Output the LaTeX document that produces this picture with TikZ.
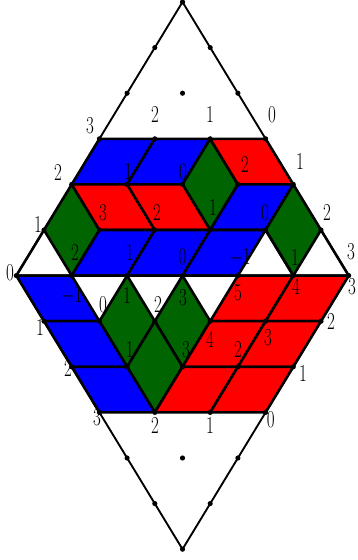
\documentclass[tikz,border=0pt]{standalone}
\usepackage{tikz}
\usepackage{xcolor}
\definecolor{dkgreen}{RGB}{0,100,0}
\tikzset{
  lz/.style={draw=black, line width=2.2pt, line join=round},
  bluetile/.style={lz, fill=blue},
  redtile/.style={lz, fill=red},
  greentile/.style={lz, fill=dkgreen},
  hgt/.style={font=\huge, xscale=0.7, transform shape, inner sep=0pt},
}

\begin{document}
\begin{tikzpicture}[x=0.831cm, y=-1.368cm]
    \useasboundingbox (-6.589,-0.044) rectangle (6.3,12.237);
    \draw[line width=1.6pt] (0,0) -- (6,6) -- (0,12) -- (-6,6) -- cycle;
    % upper half
    \filldraw[bluetile] (-3,3) -- (-1,3) -- (-2,4) -- (-4,4) -- cycle;
    \filldraw[bluetile] (-1,3) -- (1,3) -- (0,4) -- (-2,4) -- cycle;
    \filldraw[greentile] (1,3) -- (2,4) -- (1,5) -- (0,4) -- cycle;
    \filldraw[redtile] (1,3) -- (3,3) -- (4,4) -- (2,4) -- cycle;
    \filldraw[greentile] (-4,4) -- (-3,5) -- (-4,6) -- (-5,5) -- cycle;
    \filldraw[redtile] (-4,4) -- (-2,4) -- (-1,5) -- (-3,5) -- cycle;
    \filldraw[redtile] (-2,4) -- (0,4) -- (1,5) -- (-1,5) -- cycle;
    \filldraw[bluetile] (2,4) -- (4,4) -- (3,5) -- (1,5) -- cycle;
    \filldraw[greentile] (4,4) -- (5,5) -- (4,6) -- (3,5) -- cycle;
    \filldraw[bluetile] (-3,5) -- (-1,5) -- (-2,6) -- (-4,6) -- cycle;
    \filldraw[bluetile] (-1,5) -- (1,5) -- (0,6) -- (-2,6) -- cycle;
    \filldraw[bluetile] (1,5) -- (3,5) -- (2,6) -- (0,6) -- cycle;
    \draw[lz] (-5,5) -- (-6,6) -- (6,6) -- (5,5);
    \draw[lz] (3,5) -- (4,6);
    % lower half
    \filldraw[bluetile] (-6,6) -- (-4,6) -- (-3,7) -- (-5,7) -- cycle;
    \filldraw[greentile] (-2,6) -- (-1,7) -- (-2,8) -- (-3,7) -- cycle;
    \filldraw[greentile] (0,6) -- (1,7) -- (0,8) -- (-1,7) -- cycle;
    \filldraw[redtile] (2,6) -- (4,6) -- (3,7) -- (1,7) -- cycle;
    \filldraw[redtile] (4,6) -- (6,6) -- (5,7) -- (3,7) -- cycle;
    \filldraw[bluetile] (-5,7) -- (-3,7) -- (-2,8) -- (-4,8) -- cycle;
    \filldraw[greentile] (-1,7) -- (0,8) -- (-1,9) -- (-2,8) -- cycle;
    \filldraw[redtile] (1,7) -- (3,7) -- (2,8) -- (0,8) -- cycle;
    \filldraw[redtile] (3,7) -- (5,7) -- (4,8) -- (2,8) -- cycle;
    \filldraw[bluetile] (-4,8) -- (-2,8) -- (-1,9) -- (-3,9) -- cycle;
    \filldraw[redtile] (0,8) -- (2,8) -- (1,9) -- (-1,9) -- cycle;
    \filldraw[redtile] (2,8) -- (4,8) -- (3,9) -- (1,9) -- cycle;
    % lattice points
    \foreach \r in {0,...,12} {
        \pgfmathtruncatemacro{\m}{\r<=6 ? \r : 12-\r}
        \foreach \k in {0,...,\m}
            \fill (-\m+2*\k,\r) circle[radius=2.2pt];
    }
    % heights
    \foreach \u/\r/\t [count=\i] in {
        -3.34/2.72/3, -0.99/2.48/2, 0.99/2.48/1, 3.23/2.48/0,
        -4.49/3.75/2, -1.96/3.73/1, 0.02/3.73/0, 2.26/3.57/2, 4.24/3.51/1,
        -5.22/4.89/1, -2.87/4.61/3, -0.92/4.61/2, 1.10/4.50/1, 2.98/4.61/0, 5.22/4.63/2,
        -6.23/5.94/0, -3.88/5.50/2, -1.90/5.50/1, 0/5.59/0, 2.08/5.61/-1, 4.06/5.61/1, 6.08/5.48/3,
        -3.99/6.43/-1, -2.0/6.43/1, 0.02/6.49/3, 2.0/6.38/5, 4.1/6.25/4, 6.12/6.24/3,
        -5.14/7.15/1, -2.87/6.64/0, -0.88/6.64/2, 0.99/7.41/4, 3.09/7.37/3, 5.36/7.02/2,
        -4.13/8.03/2, -1.90/7.63/1, 0.13/7.63/3, 2.0/7.63/2, 4.35/8.14/1,
        -3.09/9.12/3, -0.99/9.28/2, 0.99/9.28/1, 3.19/9.17/0}
        \node[hgt] (h\i) at (\u,\r) {$\t$};
\end{tikzpicture}
\end{document}
